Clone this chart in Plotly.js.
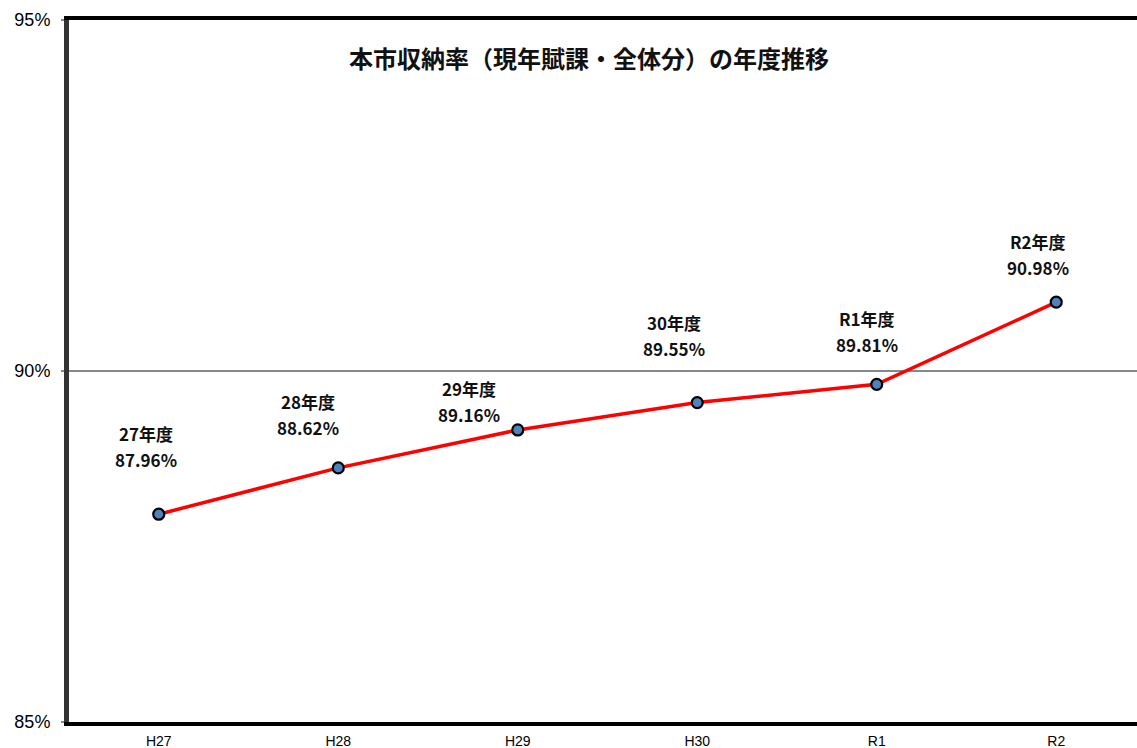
<!DOCTYPE html>
<html>
<head>
<meta charset="utf-8">
<script src="https://cdn.plot.ly/plotly-3.0.1.min.js"></script>
<style>
html,body{margin:0;padding:0;background:#fff;}
#chart{width:1137px;height:748px;}
</style>
</head>
<body>
<div id="chart"></div>
<script>
// ---- data ----
var categories = ['H27', 'H28', 'H29', 'H30', 'R1', 'R2'];
var rates = [87.96, 88.62, 89.16, 89.55, 89.81, 90.98];
var yearNames = ['27年度', '28年度', '29年度', '30年度', 'R1年度', 'R2年度'];
var yTickVals = [85, 90, 95];
var yTickText = ['85%', '90%', '95%'];
var chartTitle = '本市収納率（現年賦課・全体分）の年度推移';

// ---- label placement (style) ----
var labelXShift = [-13, -30, -49, -23, -10, -18];
var labelYShift = [68, 53, 28, 67, 53, 48];

var FONT = 'Liberation Sans, Arial, Noto Sans CJK JP, sans-serif';
var LABEL_FONT = {family: 'Noto Sans CJK JP, Liberation Sans, sans-serif', size: 17, color: '#111', weight: 'bold'};

var trace = {
  x: categories,
  y: rates,
  type: 'scatter',
  mode: 'lines+markers',
  line: {color: '#ff0000', width: 3.5},
  marker: {color: '#4f81bd', size: 11, line: {color: '#000', width: 2.2}},
  hoverinfo: 'x+y'
};

var annotations = [];
categories.forEach(function (c, i) {
  annotations.push({
    x: c, y: rates[i], xref: 'x', yref: 'y',
    text: yearNames[i], showarrow: false,
    xanchor: 'center', yanchor: 'middle',
    xshift: labelXShift[i], yshift: labelYShift[i] + 13,
    font: LABEL_FONT
  });
  annotations.push({
    x: c, y: rates[i], xref: 'x', yref: 'y',
    text: rates[i].toFixed(2) + '%', showarrow: false,
    xanchor: 'center', yanchor: 'middle',
    xshift: labelXShift[i], yshift: labelYShift[i] - 13,
    font: LABEL_FONT
  });
});
annotations.push({
  xref: 'paper', yref: 'paper', x: 0.487, y: 0.947,
  text: chartTitle, showarrow: false, xanchor: 'center', yanchor: 'middle',
  font: {family: 'Noto Sans CJK JP, sans-serif', size: 24, color: '#111', weight: 'bold'}
});

var layout = {
  width: 1137, height: 748,
  margin: {l: 69, r: 0, t: 20, b: 26},
  paper_bgcolor: '#fff', plot_bgcolor: '#fff',
  showlegend: false,
  font: {family: FONT, color: '#000'},
  xaxis: {
    type: 'category',
    range: [-0.5, 5.45],
    showgrid: false, zeroline: false,
    showline: true, linecolor: '#000', linewidth: 4, mirror: true,
    ticks: '', tickfont: {size: 14, family: 'Liberation Sans Narrow, Liberation Sans, Arial', color: '#000'},
    ticklabelstandoff: 3
  },
  yaxis: {
    range: [85, 95], tickmode: 'array', tickvals: yTickVals, ticktext: yTickText,
    showgrid: true, gridcolor: '#888', gridwidth: 1.5,
    zeroline: false,
    showline: true, linecolor: '#333', linewidth: 5,
    ticks: 'outside', ticklen: 3, tickcolor: '#888', tickwidth: 1.5,
    ticklabelstandoff: 7,
    tickfont: {size: 18, family: FONT, color: '#000'}
  },
  annotations: annotations
};

Plotly.newPlot('chart', [trace], layout, {displayModeBar: false, staticPlot: true});
</script>
</body>
</html>
